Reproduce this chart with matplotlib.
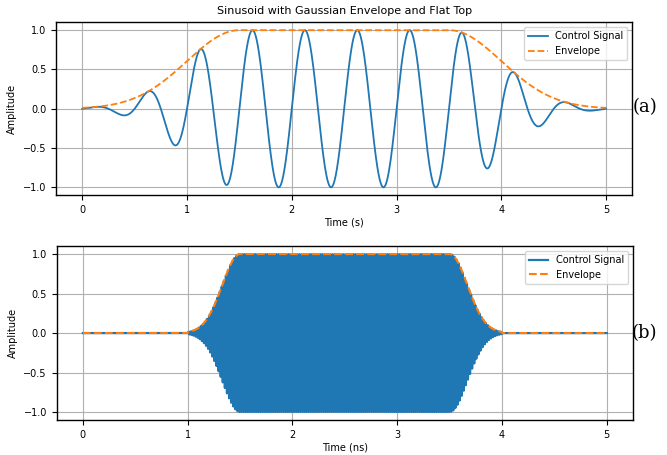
import numpy as np
import matplotlib
matplotlib.use("Agg")
import matplotlib.pyplot as plt

# pulse parameters
# (a): slow pulse, time in s
t_a_range = [0.0, 5.0]
freq_a = 2.0            # cycles per s
flat_a = [1.5, 3.5]     # flat top start/end
sigma_a = 0.5           # gaussian edge width
# (b): fast pulse, time in ns
t_b_range = [0.0, 5.0]
freq_b = 50.0           # cycles per ns
flat_b = [1.5, 3.5]
ramp_b = [1.0, 4.0]     # envelope is zero outside this
sigma_b = 0.17

xticks = [0, 1, 2, 3, 4, 5]
yticks = [-1.0, -0.5, 0.0, 0.5, 1.0]


def flat_gauss(t, t1, t2, sigma, lo=None, hi=None):
    env = np.ones_like(t)
    env[t < t1] = np.exp(-(t[t < t1] - t1)**2 / (2*sigma**2))
    env[t > t2] = np.exp(-(t[t > t2] - t2)**2 / (2*sigma**2))
    if lo is not None:
        env[t < lo] = 0.0
    if hi is not None:
        env[t > hi] = 0.0
    return env


plt.rcParams['font.size'] = 7
fig = plt.figure(figsize=(6.67, 4.55), dpi=100)
ax1 = fig.add_axes([0.084, 0.571, 0.864, 0.380])
ax2 = fig.add_axes([0.085, 0.077, 0.864, 0.382])

t = np.linspace(t_a_range[0], t_a_range[1], 2000)
env = flat_gauss(t, flat_a[0], flat_a[1], sigma_a)
ax1.plot(t, env*np.sin(2*np.pi*freq_a*t), label='Control Signal', lw=1.3)
ax1.plot(t, env, '--', label='Envelope', lw=1.3)
ax1.set_title('Sinusoid with Gaussian Envelope and Flat Top', fontsize=8)
ax1.set_xlabel('Time (s)', labelpad=2)
ax1.set_ylabel('Amplitude')

tb = np.linspace(t_b_range[0], t_b_range[1], 12000)
envb = flat_gauss(tb, flat_b[0], flat_b[1], sigma_b, ramp_b[0], ramp_b[1])
ax2.plot(tb, envb*np.sin(2*np.pi*freq_b*tb), label='Control Signal', lw=1.6)
ax2.plot(tb, envb, '--', label='Envelope', lw=1.5)
ax2.set_xlabel('Time (ns)', labelpad=2)
ax2.set_ylabel('Amplitude')

for ax in (ax1, ax2):
    ax.set_xticks(xticks)
    ax.set_yticks(yticks)
    ax.set_xlim(-0.25, 5.25)
    ax.set_ylim(-1.1, 1.1)
    ax.grid(True, color='#b0b0b0', lw=0.8)
    ax.legend(loc='upper right', fontsize=7)
    for s in ax.spines.values():
        s.set_linewidth(1.0)

fig.text(0.985, 0.765, '(a)', family='serif', fontsize=13, ha='right', va='center')
fig.text(0.985, 0.268, '(b)', family='serif', fontsize=13, ha='right', va='center')

fig.savefig('out.png', dpi=100)
